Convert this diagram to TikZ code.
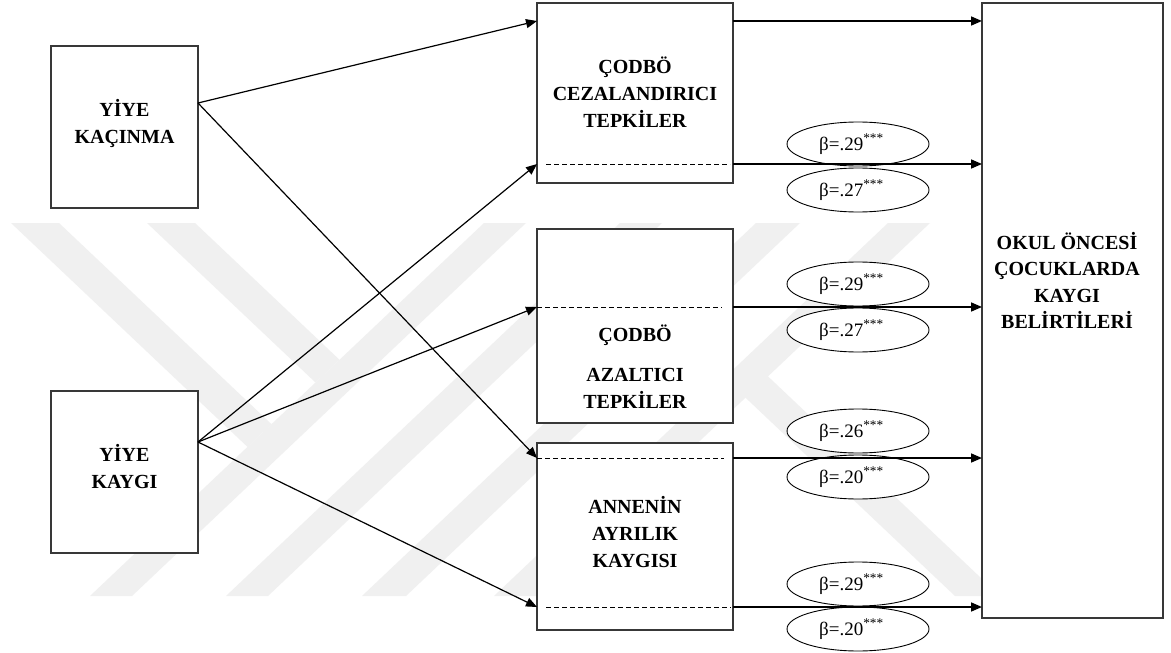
\documentclass[tikz,border=0pt]{standalone}
\usepackage{fontspec}
\setmainfont{Liberation Serif}
\usetikzlibrary{arrows.meta,shapes.geometric}
\newcommand{\bcoef}[1]{β=.#1\textsuperscript{***}\kern13bp}
\begin{document}
\begin{tikzpicture}[x=1bp,y=-1bp,
  box/.style={draw=black!78, line width=1.2bp, fill=white, inner sep=0pt, outer sep=0pt},
  lbl/.style={font=\bfseries\fontsize{20bp}{27bp}\selectfont, align=center, inner sep=0pt},
  lblb/.style={font=\bfseries\fontsize{20bp}{26.3bp}\selectfont, align=center, inner sep=0pt},
  coef/.style={draw=black, line width=0.9bp, fill=white, ellipse, minimum width=142bp, minimum height=44bp, inner sep=0pt, font=\fontsize{19bp}{22bp}\selectfont},
  arr/.style={-{Triangle[length=11bp,width=9bp]}, line width=1.2bp},
  harr/.style={arr, line width=1.6bp},
  dsh/.style={dash pattern=on 5bp off 3bp, line width=0.8bp},
  wm/.style={fill=black!6, draw=none}]
\useasboundingbox (0,0) rectangle (1171,653);
\fill[white] (0,0) rectangle (1171,653);

% watermark
\fill[wm] (11,223) -- (59,223) -- (271.5,424.2) -- (247.5,446.9) -- cycle;
\fill[wm] (147,223) -- (195,223) -- (339.5,359.8) -- (315.5,382.5) -- cycle;
\fill[wm] (90,596) -- (132,596) -- (526,223) -- (484,223) -- cycle;
\fill[wm] (226,596) -- (268,596) -- (662,223) -- (620,223) -- cycle;
\fill[wm] (362,596) -- (406,596) -- (800,223) -- (756,223) -- cycle;
\fill[wm] (494,596) -- (536,596) -- (930,223) -- (888,223) -- cycle;
\fill[wm] (724.5,377.8) -- (955,596) -- (1000,596) -- (768,376.4) -- cycle;

% boxes
\node[box, minimum width=147bp, minimum height=162bp] (kac) at (124.5,127) {};
\node[box, minimum width=147bp, minimum height=162bp] (kay) at (124.5,472) {};
\node[box, minimum width=196bp, minimum height=180bp] (cez) at (635,93) {};
\node[box, minimum width=196bp, minimum height=194bp] (aza) at (635,326) {};
\node[box, minimum width=196bp, minimum height=187bp] (ann) at (635,536.5) {};
\node[box, minimum width=181bp, minimum height=615bp] (big) at (1072.5,310.5) {};

% labels
\node[lbl] (kacT) at (124.5,124.5) {\strut YİYE\\KAÇINMA\strut};
\node[lbl] (kayT) at (124.5,470) {\strut YİYE\\KAYGI\strut};
\node[lbl] (cezT) at (635,95) {\strut ÇODBÖ\\CEZALANDIRICI\\TEPKİLER\strut};
\node[lbl] (azaT) at (635,369.6) {\strut ÇODBÖ\\[13bp]AZALTICI\\TEPKİLER\strut};
\node[lbl] (annT) at (635,535) {\strut ANNENİN\\AYRILIK\\KAYGISI\strut};
\node[lblb] (bigT) at (1067,283.7) {\strut OKUL ÖNCESİ\\ÇOCUKLARDA\\KAYGI\\BELİRTİLERİ\strut};

% coefficient ellipses
\node[coef] (e1a) at (858,144) {\bcoef{29}};
\node[coef] (e1b) at (858,190) {\bcoef{27}};
\node[coef] (e2a) at (858,284) {\bcoef{29}};
\node[coef] (e2b) at (858,330) {\bcoef{27}};
\node[coef] (e3a) at (858,431) {\bcoef{26}};
\node[coef] (e3b) at (858,477) {\bcoef{20}};
\node[coef] (e4a) at (858,584) {\bcoef{29}};
\node[coef] (e4b) at (858,629) {\bcoef{20}};

% levels
\coordinate (L0) at (0,21);
\coordinate (L1) at (0,164);
\coordinate (L2) at (0,307);
\coordinate (L3) at (0,458);
\coordinate (L4) at (0,607);
\coordinate (kacO) at (198,103);
\coordinate (kayO) at (198,442);

% dashed lines
\draw[dsh] ([xshift=9bp]cez.west |- L1) -- ([xshift=-3bp]cez.east |- L1);
\draw[dsh] (aza.west |- L2) -- ([xshift=-11bp]aza.east |- L2);
\draw[dsh] (ann.west |- L3) -- ([xshift=-9bp]ann.east |- L3);
\draw[dsh] ([xshift=9bp]ann.west |- L4) -- ([xshift=-2bp]ann.east |- L4);

% diagonal paths
\draw[arr] (kacO) -- (cez.west |- L0);
\draw[arr] (kacO) -- (ann.west |- L3);
\draw[arr] (kayO) -- (cez.west |- L1);
\draw[arr] (kayO) -- (aza.west |- L2);
\draw[arr] (kayO) -- (ann.west |- L4);

% paths to outcome
\draw[harr] (cez.east |- L0) -- (big.west |- L0);
\draw[harr] (cez.east |- L1) -- (big.west |- L1);
\draw[harr] (aza.east |- L2) -- (big.west |- L2);
\draw[harr] (ann.east |- L3) -- (big.west |- L3);
\draw[harr] (ann.east |- L4) -- (big.west |- L4);
\end{tikzpicture}
\end{document}
